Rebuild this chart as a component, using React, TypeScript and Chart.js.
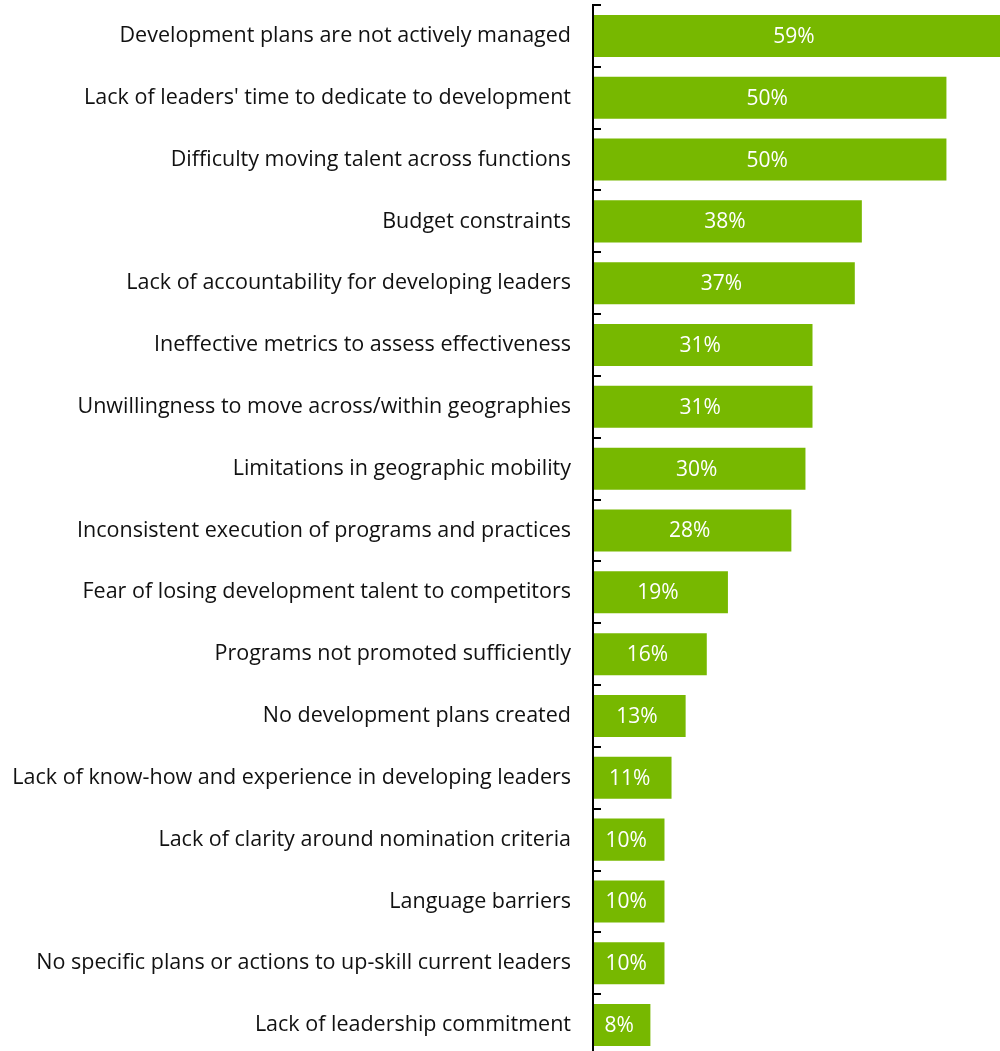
import React, { useEffect, useRef } from "react";
import { Chart, registerables } from "chart.js";

Chart.register(...registerables);

const categories = [
  "Development plans are not actively managed",
  "Lack of leaders' time to dedicate to development",
  "Difficulty moving talent across functions",
  "Budget constraints",
  "Lack of accountability for developing leaders",
  "Ineffective metrics to assess effectiveness",
  "Unwillingness to move across/within geographies",
  "Limitations in geographic mobility",
  "Inconsistent execution of programs and practices",
  "Fear of losing development talent to competitors",
  "Programs not promoted sufficiently",
  "No development plans created",
  "Lack of know-how and experience in developing leaders",
  "Lack of clarity around nomination criteria",
  "Language barriers",
  "No specific plans or actions to up-skill current leaders",
  "Lack of leadership commitment",
];

const values = [59, 50, 50, 38, 37, 31, 31, 30, 28, 19, 16, 13, 11, 10, 10, 10, 8];

const FONT = "'Open Sans', sans-serif";
const GREEN = "#77b800";

const axisPlugin = {
  id: "axisTicks",
  afterDatasetsDraw(chart: any) {
    const { ctx, chartArea } = chart;
    const n = categories.length;
    const step = (chartArea.bottom - chartArea.top) / n;
    ctx.save();
    ctx.strokeStyle = "#000";
    ctx.lineWidth = 2;
    ctx.beginPath();
    ctx.moveTo(chartArea.left - 1, chartArea.top);
    ctx.lineTo(chartArea.left - 1, chartArea.bottom);
    ctx.stroke();
    for (let i = 0; i < n; i++) {
      const y = Math.round(chartArea.top + i * step);
      ctx.beginPath();
      ctx.moveTo(chartArea.left - 2, y);
      ctx.lineTo(chartArea.left + 7, y);
      ctx.stroke();
    }
    // value labels
    const meta = chart.getDatasetMeta(0);
    ctx.fillStyle = "#fff";
    ctx.font = `21px ${FONT}`;
    ctx.textAlign = "center";
    ctx.textBaseline = "middle";
    meta.data.forEach((el: any, i: number) => {
      const right = Math.min(el.x, chartArea.right);
      const cx = (el.base + right) / 2 - 3;
      ctx.fillText(values[i] + "%", cx, el.y + 1);
    });
    ctx.restore();
  },
};

export default function App() {
  const ref = useRef<HTMLCanvasElement>(null);
  useEffect(() => {
    document.body.style.margin = "0";
    document.body.style.overflow = "hidden";
    const chart = new Chart(ref.current!, {
      type: "bar",
      data: {
        labels: categories,
        datasets: [
          {
            data: values,
            backgroundColor: GREEN,
            barPercentage: 0.68,
            categoryPercentage: 1,
          },
        ],
      },
      options: {
        indexAxis: "y",
        animation: false,
        responsive: false,
        maintainAspectRatio: false,
        layout: { padding: { top: 5, bottom: 0, left: 0, right: 0 } },
        plugins: { legend: { display: false }, tooltip: { enabled: false } },
        scales: {
          x: { display: false, min: 0, max: 57.6 },
          y: {
            grid: { display: false, drawTicks: false },
            border: { display: false },
            afterFit(scale: any) {
              scale.width = 594;
              scale.paddingTop = 0;
              scale.paddingBottom = 0;
            },
            ticks: {
              color: "#111",
              padding: 23,
              autoSkip: false,
              font: { family: FONT, size: 21.5 },
            },
          },
        },
      },
      plugins: [axisPlugin],
    });
    return () => chart.destroy();
  }, []);
  return (
    <div style={{ position: "absolute", left: 0, top: 0 }}>
      <canvas ref={ref} width={1000} height={1056} style={{ display: "block" }} />
    </div>
  );
}
